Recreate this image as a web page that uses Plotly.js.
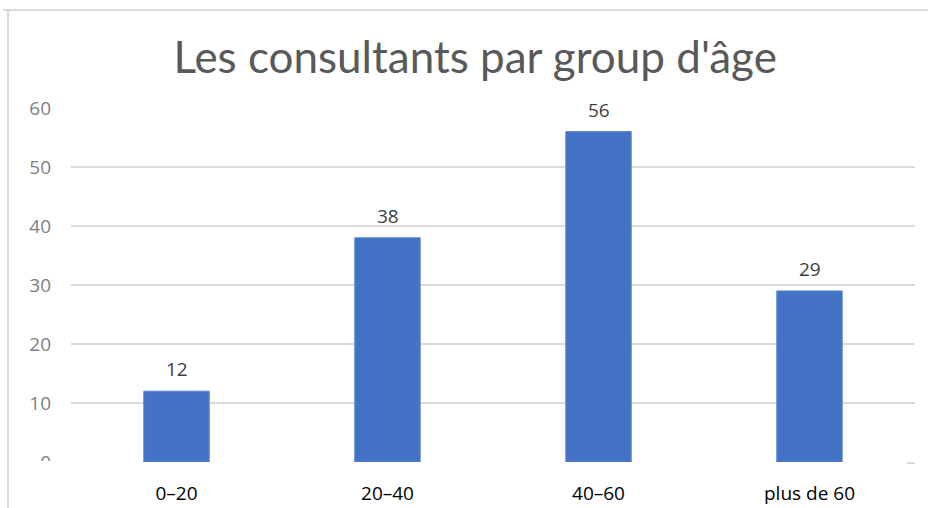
<!DOCTYPE html>
<html>
<head>
<meta charset="utf-8">
<script src="https://cdn.plot.ly/plotly-3.0.1.min.js"></script>
<style>html,body{margin:0;padding:0;background:#fff;}#chart{width:928px;height:508px;}</style>
</head>
<body>
<div id="chart"></div>
<script>
var categories = ["0–20", "20–40", "40–60", "plus de 60"];
var values = [12, 38, 56, 29];
var yTicks = [0, 10, 20, 30, 40, 50, 60];
var titleText = "Les consultants par group d'âge";

var trace = {
  type: 'bar',
  x: categories,
  y: values,
  marker: {color: '#4472c4', line: {color: '#5b86d3', width: 1}},
  hoverinfo: 'none'
};

var grey = '#d9d9d9';
var valueAnnotations = categories.map(function (c, i) {
  return {
    x: c, y: values[i], xref: 'x', yref: 'y',
    text: String(values[i]), showarrow: false,
    yanchor: 'middle', yshift: 22,
    font: {family: 'Open Sans', size: 19, color: '#404040'}
  };
});

var layout = {
  width: 928, height: 508,
  margin: {l: 71, r: 13, t: 108, b: 46, pad: 0},
  paper_bgcolor: '#fff', plot_bgcolor: '#fff',
  showlegend: false,
  bargap: 0.69,
  title: {text: titleText, font: {family: 'Lato', size: 44, color: '#595959'}, x: 0.512, xanchor: 'center', y: 0.887, yanchor: 'middle'},
  xaxis: {
    type: 'category', showgrid: false, zeroline: false,
    showline: true, linecolor: '#ffffff', linewidth: 2,
    ticks: '', ticklabelstandoff: 13,
    tickfont: {family: 'Open Sans', size: 19, color: '#000000'}
  },
  yaxis: {
    range: [0, 60], tickvals: yTicks, ticktext: yTicks.map(String),
    showgrid: true, gridcolor: grey, gridwidth: 2,
    zeroline: false, showline: false, ticks: '',
    ticklabelstandoff: 19,
    tickfont: {family: 'Open Sans', size: 19, color: '#7f7f7f'}
  },
  annotations: valueAnnotations,
  shapes: [
    {type: 'rect', xref: 'paper', yref: 'paper', xsizemode: 'pixel', ysizemode: 'pixel', xanchor: 0, yanchor: 0,
     x0: -62, x1: -4, y0: -20, y1: 1, fillcolor: '#ffffff', line: {width: 0}, layer: 'above'},
    {type: 'line', xref: 'paper', yref: 'paper', x0: -0.0805, x1: 1.02, y0: 1.2768, y1: 1.2768, line: {color: grey, width: 2}},
    {type: 'line', xref: 'paper', yref: 'paper', x0: -0.0746, x1: -0.0746, y0: 1.2768, y1: -0.14, line: {color: grey, width: 2}},
    {type: 'line', xref: 'paper', yref: 'paper', x0: 0.9905, x1: 1.0, y0: -0.0028, y1: -0.0028, line: {color: grey, width: 2}}
  ]
};

Plotly.newPlot('chart', [trace], layout, {displayModeBar: false, staticPlot: true});
</script>
</body>
</html>
